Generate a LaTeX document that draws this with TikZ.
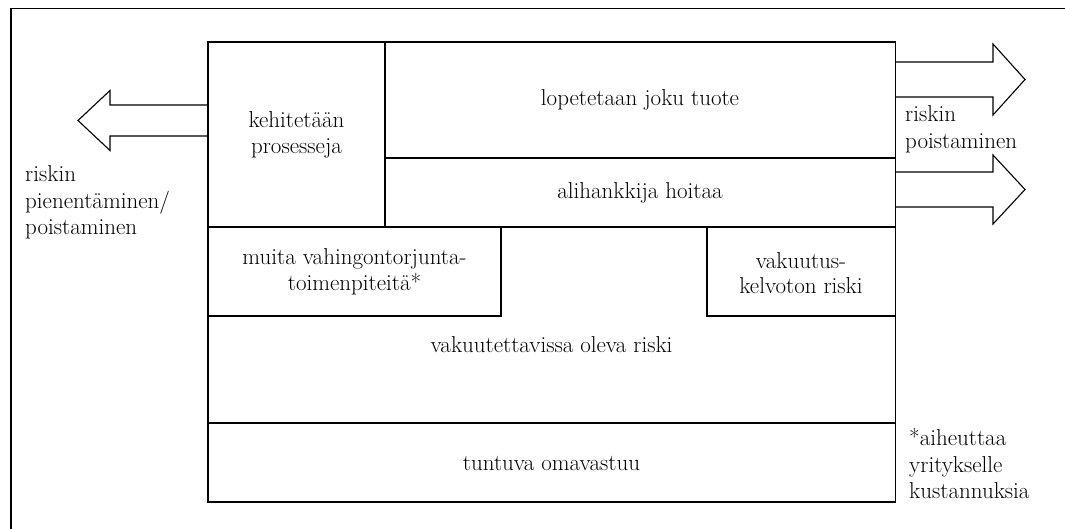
\documentclass[tikz,border=0pt]{standalone}
\usepackage{fontspec}
\begin{document}
\begin{tikzpicture}[x=1pt,y=-1pt,
  frame/.style={line width=1.6pt},
  boxline/.style={line width=1.6pt},
  blockarrow/.style={line width=1.1pt, fill=white, line join=miter},
  lbl/.style={font=\fontsize{23}{25.5}\selectfont, align=center, inner sep=0pt},
  side/.style={font=\fontsize{23}{26.5}\selectfont, align=left, inner sep=0pt, anchor=north west}]
\useasboundingbox (0,0) rectangle (1065,529);
% outer frame (open at right and bottom)
\draw[frame] (1065,8.5) -- (11,8.5) -- (11,529);
% corner coordinates
\coordinate (TL) at (208,42);
\coordinate (BR) at (895.5,502);
% arrows
\draw[blockarrow] (208,105) -- (110,105) -- (110,90.5) -- (78,120.5) -- (110,150.5) -- (110,136) -- (208,136);
\draw[blockarrow] (895.5,62) -- (993,62) -- (993,44) -- (1025,79.5) -- (993,115) -- (993,97) -- (895.5,97);
\draw[blockarrow] (895.5,172) -- (993,172) -- (993,155) -- (1025,189.5) -- (993,224) -- (993,207) -- (895.5,207);
% main box and dividers
\draw[boxline] (TL) rectangle (BR);
\draw[boxline] (385,42) -- (385,227);
\draw[boxline] (385,158) -- (895.5,158);
\draw[boxline] (208,227) -- (895.5,227);
\draw[boxline] (501,227) -- (501,316) -- (208,316);
\draw[boxline] (707,227) -- (707,316) -- (895.5,316);
\draw[boxline] (208,423) -- (895.5,423);
% texts
\node[lbl] (keh) at (296.5,135) {kehitetään\\prosesseja};
\node[lbl] (lop) at (640,100) {lopetetaan joku tuote};
\node[lbl] (ali) at (640,192.5) {alihankkija hoitaa};
\node[lbl] (muita) at (354.5,272) {muita vahingontorjunta-\\toimenpiteitä*};
\node[lbl] (vakk) at (801,273) {vakuutus-\\kelvoton riski};
\node[lbl] (vakr) at (551.5,345) {vakuutettavissa oleva riski};
\node[lbl] (omav) at (551.5,464) {tuntuva omavastuu};
\node[side] (left) at (25,165.5) {riskin\\pienentäminen/\\poistaminen};
\node[side] (right) at (905,105.5) {riskin\\poistaminen};
\node[side] (note) at (909,428.5) {*aiheuttaa\\yritykselle\\kustannuksia};
\end{tikzpicture}
\end{document}
